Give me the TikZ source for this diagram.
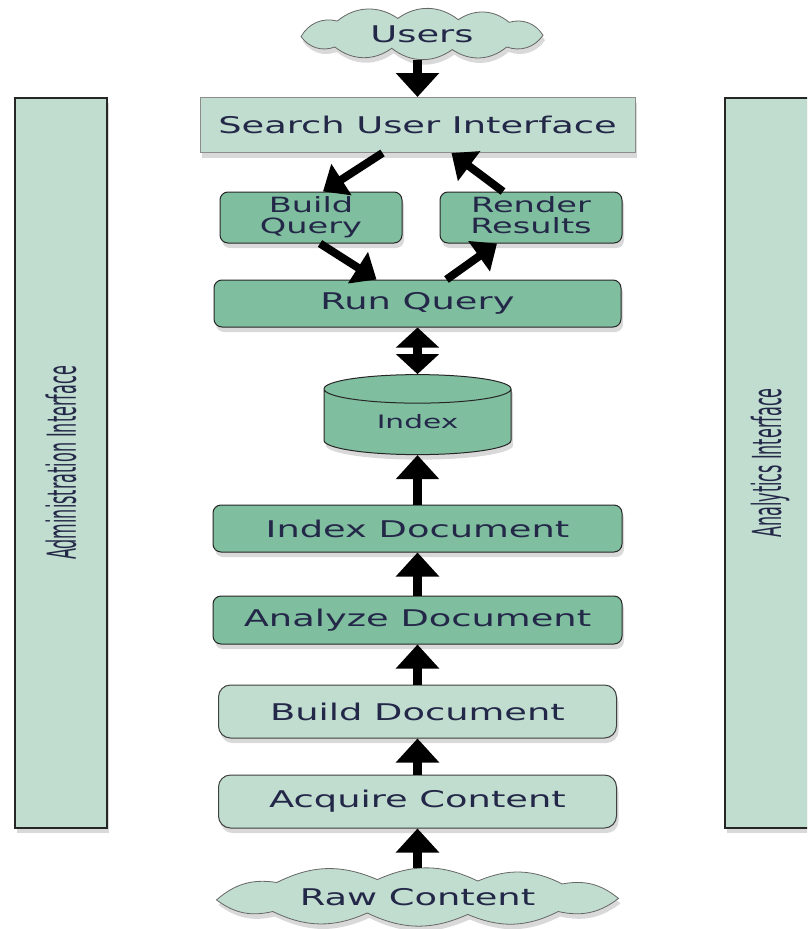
\documentclass[tikz,border=0pt]{standalone}
\usepackage{fontspec}
\setmainfont{DejaVu Sans}
\usepackage{graphicx}
\usepackage{xcolor}
\usetikzlibrary{shapes.geometric, arrows.meta, shadows, calc, backgrounds}

\definecolor{palegreen}{RGB}{192,221,207}
\definecolor{sagegreen}{RGB}{128,190,160}
\definecolor{inkblue}{RGB}{36,40,72}

% the lettering of the picture is stretched sideways
\newcommand{\wide}[1]{\scalebox{1.6}[1]{#1}}
\newcommand{\tall}[1]{\scalebox{0.8}[2]{#1}}
% cloud outline round a node: name, half width, half height, bend
\newcommand{\puffline}[4]{%
  \draw[cloudedge, shift={(#1.center)}]
    (-#2,0.1*#3) to[bend left=#4] (-0.7*#2,-0.5*#3)
    to[bend left=#4] (-0.2*#2,-0.6*#3) to[bend left=#4] (0.3*#2,-0.55*#3)
    to[bend left=#4] (0.72*#2,-0.45*#3) to[bend left=#4] (#2,0.05*#3)
    to[bend left=#4] (0.7*#2,0.5*#3) to[bend left=#4] (0.25*#2,0.6*#3)
    to[bend left=#4] (-0.25*#2,0.55*#3) to[bend left=#4] (-0.72*#2,0.5*#3)
    to[bend left=#4] (-#2,0.1*#3) -- cycle;}

\begin{document}
\begin{tikzpicture}[
    x=1pt, y=-1pt,
    every node/.style={text=inkblue, font=\fontsize{23}{26}\selectfont},
    castshadow/.style={drop shadow={shadow xshift=2pt, shadow yshift=-5pt, opacity=0.3}},
    light/.style={rectangle, draw=black!75, line width=1pt, fill=palegreen, rounded corners=12pt, inner sep=0pt, castshadow},
    dark/.style={rectangle, draw=black!85, line width=1pt, fill=sagegreen, rounded corners=8pt, inner sep=0pt, castshadow},
    cloudedge/.style={draw=black!60, line width=0.8pt, fill=palegreen, castshadow},
    side/.style={rectangle, draw=black!85, line width=1.5pt, fill=palegreen, minimum height=730pt, inner sep=0pt, castshadow, font=\fontsize{20}{24}\selectfont},
    arrow/.style={-{Triangle[width=42pt,length=24pt]}, line width=9pt},
    slant/.style={-{Triangle[width=36pt,length=22pt]}, line width=8pt}
]
\path[use as bounding box, clip] (0,0) rectangle (807,929);

% Side interfaces
\node[side, minimum width=92pt] (admin) at (61,463) {\rotatebox{90}{\tall{Administration Interface}}};
\node[side, minimum width=90pt] (analytics) at (770,463) {\rotatebox{90}{\tall{Analytics Interface}}};

% Search side
\node[minimum width=242pt, minimum height=52pt, inner sep=0pt] (users) at (422,34) {\wide{Users}};
\node[rectangle, draw=black!45, line width=1pt, fill=palegreen, minimum width=435pt, minimum height=55pt, inner sep=0pt, castshadow] (sui) at (417.5,125) {\wide{Search User Interface}};
\node[dark, minimum width=182pt, minimum height=51pt, font=\fontsize{21}{18}\selectfont] (bq) at (311,217.5) {\wide{\begin{tabular}{@{}c@{}}Build\\Query\end{tabular}}};
\node[dark, minimum width=182pt, minimum height=51pt, font=\fontsize{21}{18}\selectfont] (rr) at (531,217.5) {\wide{\begin{tabular}{@{}c@{}}Render\\Results\end{tabular}}};
\node[dark, minimum width=407pt, minimum height=47pt] (rq) at (417.5,303.5) {\wide{Run Query}};

% Index
\node[cylinder, shape border rotate=90, aspect=0.35, draw=black!85, line width=1pt, fill=sagegreen, minimum width=187pt, minimum height=80pt, inner sep=0pt, castshadow, font=\fontsize{18.5}{22}\selectfont] (index) at (417.5,422) {\wide{Index}};

% Indexing side
\node[dark, minimum width=409pt, minimum height=47pt] (idoc) at (417.5,528.5) {\wide{Index Document}};
\node[dark, minimum width=409pt, minimum height=48pt] (adoc) at (417.5,620) {\wide{Analyze Document}};
\node[light, minimum width=398pt, minimum height=53pt] (bdoc) at (417.5,711.5) {\wide{Build Document}};
\node[light, minimum width=398pt, minimum height=53pt] (acq) at (417.5,801.5) {\wide{Acquire Content}};
\node[minimum width=403pt, minimum height=58pt, inner sep=0pt] (raw) at (417.5,897) {\wide{Raw Content}};

% Clouds
\begin{scope}[on background layer]
\puffline{users}{121}{26}{37}
\puffline{raw}{201}{29}{25}
\end{scope}

% Arrows
\draw[arrow] (users.south -| sui.north) -- (sui.north);
\draw[slant] ([xshift=-35pt]sui.south) -- ([xshift=12pt]bq.north);
\draw[slant] ([xshift=-28pt]rr.north) -- ([xshift=34pt]sui.south);
\draw[slant] ([xshift=9pt]bq.south) -- ([xshift=-41pt]rq.north);
\draw[slant] ([xshift=29pt]rq.north) -- ([xshift=-34pt]rr.south);
\draw[{Triangle[width=42pt,length=20pt]}-{Triangle[width=42pt,length=20pt]}, line width=9pt] (rq) -- (index);
\draw[arrow] (idoc) -- (index);
\draw[arrow] (adoc) -- (idoc);
\draw[arrow] (bdoc) -- (adoc);
\draw[arrow] (acq) -- (bdoc);
\draw[arrow] (raw) -- (acq);

\end{tikzpicture}
\end{document}
